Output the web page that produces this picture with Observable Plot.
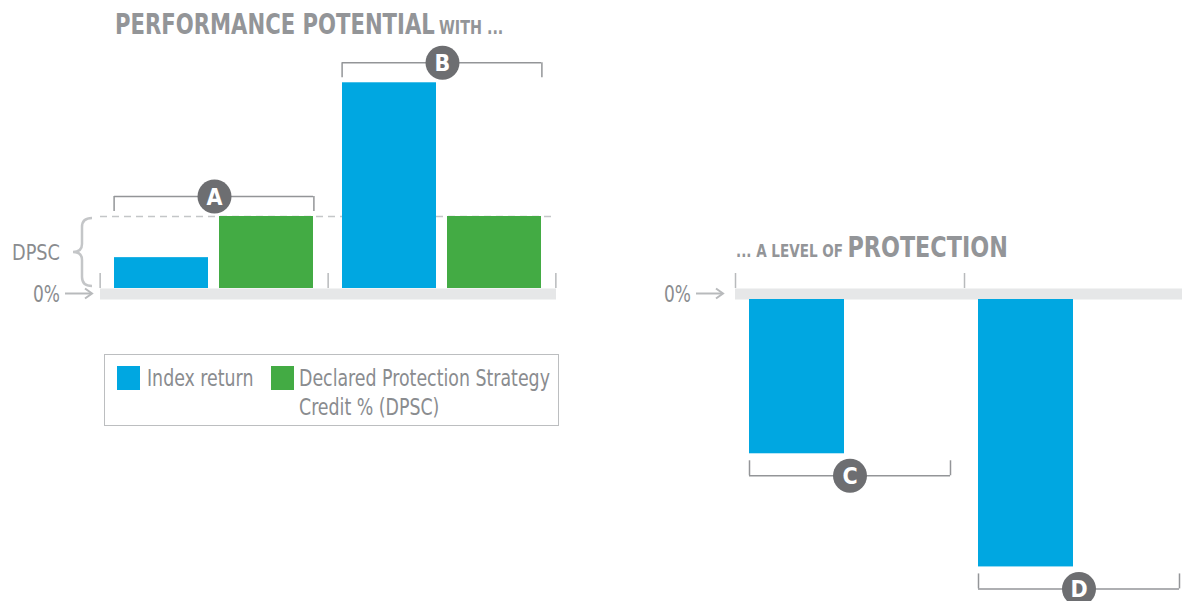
<!DOCTYPE html>
<html>
<head>
<meta charset="utf-8">
<script src="https://cdn.jsdelivr.net/npm/d3@7"></script>
<script src="https://cdn.jsdelivr.net/npm/@observablehq/plot@0.6"></script>
<style>
  html, body { margin: 0; padding: 0; background: #fff; overflow: hidden; }
  #wrap { position: relative; width: 1182px; height: 601px; overflow: hidden;
          font-family: "Liberation Sans Narrow", "DejaVu Sans Condensed", "Liberation Sans", sans-serif; }
  #wrap > svg, #wrap > div { position: absolute; }
  .title { color: #939598; font-weight: bold; white-space: nowrap; line-height: 1; transform-origin: 0 0; }
  .title .big { font-size: 28px; }
  .title .small { font-size: 17px; }
  .title .small2 { font-size: 19px; }
  #legend { left: 104px; top: 354px; width: 453px; height: 70px; border: 1.5px solid #bcbec0; color: #8a8c8f; font-size: 23px; }
  .sw { position: absolute; width: 23px; height: 24px; top: 11px; }
  .lt { position: absolute; top: 9px; line-height: 29px; white-space: nowrap; transform: scaleX(0.84); transform-origin: 0 0; }
</style>
</head>
<body>
<div id="wrap"></div>
<script>
// ---------------- data ----------------
const groups = ["A", "B", "C", "D"];
const upsideGroups = ["A", "B"];
const downsideGroups = ["C", "D"];
const series = ["Index return", "Declared Protection Strategy Credit % (DPSC)"];
const indexReturn = [3, 20, -15, -26];
const dpscCredit = [7, 7, 0, 0];
const seriesColors = ["#00a7e1", "#43ab44"];
const legendLabels = ["Index return", "Declared Protection Strategy", "Credit % (DPSC)"];
const titleUp = ["PERFORMANCE POTENTIAL", "WITH ..."];
const titleDown = ["... A LEVEL OF", "PROTECTION"];
const zeroLabel = "0%";
const dpscLabel = "DPSC";

// tidy table built from the arrays
const rows = groups.flatMap((g, i) => [
  {group: g, series: series[0], value: indexReturn[i]},
  {group: g, series: series[1], value: dpscCredit[i]}
]).filter(d => d.value !== 0);
const brackets = groups.map((g, i) => {
  const vals = [indexReturn[i], dpscCredit[i]];
  const up = upsideGroups.includes(g);
  return {group: g, up, level: up ? d3.max(vals) : d3.min(vals)};
});

// ---------------- layout constants ----------------
const yMax = 28;            // value span of the value scale
const pxSpan = 288;         // pixel span of that value span
const k = pxSpan / yMax;    // px per unit
const padIn = 0.104, padOut = 0.132;
const grey = "#939598";
const font = '"Liberation Sans Narrow", "DejaVu Sans Condensed", "Liberation Sans", sans-serif';

const wrap = d3.select("#wrap");

function panel({grp, width, height, ml, mr, yDomain, yRange, up, dashed, lastTick}) {
  const cellW = (width - ml - mr) / grp.length;
  const xb = d3.scaleBand().domain(series).range([0, cellW]).paddingInner(padIn).paddingOuter(padOut);
  const bw = xb.bandwidth();
  const bandDy = up ? 5.5 : -5.5;
  const tickDy = up ? 0 : -11;
  const bDy = up ? -20 : 22;
  const endLen = (up ? -15 : 15) / k;
  const pRows = rows.filter(d => grp.includes(d.group));
  const pBr = brackets.filter(d => grp.includes(d.group));
  const marks = [
    Plot.ruleY([0], {stroke: "#e6e7e8", strokeWidth: 11, dy: bandDy}),
    Plot.ruleX(pBr, {fx: "group", x: () => series[0], y1: () => 0, y2: () => 15 / k, dy: tickDy,
                     dx: -(bw / 2 + xb(series[0])), stroke: "#b8babc", strokeWidth: 1.5}),
  ];
  if (lastTick) marks.push(
    Plot.ruleX(pBr.slice(-1), {fx: "group", x: () => series[1], y1: () => 0, y2: () => 15 / k, dy: tickDy,
                     dx: cellW - xb(series[1]) - bw / 2, stroke: "#b8babc", strokeWidth: 1.5}));
  if (dashed) marks.push(
    Plot.ruleY([dpscCredit[0]], {stroke: "#c4c6c8", strokeWidth: 1.5, strokeDasharray: "7,5"}));
  marks.push(
    Plot.barY(pRows, {fx: "group", x: "series", y: "value", fill: "series"}),
    Plot.ruleY(pBr, {fx: "group", y: "level", x1: () => series[0], x2: () => series[1], dy: bDy, stroke: grey, strokeWidth: 1.5}),
    Plot.ruleX(pBr, {fx: "group", x: () => series[0], y1: "level", y2: d => d.level + endLen, dx: -bw / 2, dy: bDy, stroke: grey, strokeWidth: 1.5}),
    Plot.ruleX(pBr, {fx: "group", x: () => series[1], y1: "level", y2: d => d.level + endLen, dx: bw / 2, dy: bDy, stroke: grey, strokeWidth: 1.5}),
    Plot.dot(pBr, {fx: "group", y: "level", r: 17, fill: "#6d6e71", dy: bDy}),
    Plot.text(pBr, {fx: "group", y: "level", text: "group", dy: bDy + 1, fill: "white", fontSize: 23, fontWeight: "bold"})
  );
  return Plot.plot({
    width, height, marginLeft: ml, marginRight: mr, marginTop: 0, marginBottom: 0,
    style: {fontFamily: font, background: "transparent", overflow: "visible"},
    fx: {domain: grp, padding: 0, axis: null, label: null},
    x: {domain: series, paddingInner: padIn, paddingOuter: padOut, axis: null, label: null},
    y: {domain: yDomain, range: yRange, axis: null, label: null},
    color: {domain: series, range: seriesColors},
    marks
  });
}

const left = panel({grp: upsideGroups, width: 600, height: 340, ml: 99, mr: 44,
  yDomain: [0, yMax], yRange: [288, 288 - pxSpan], up: true, dashed: true, lastTick: true});
const right = panel({grp: downsideGroups, width: 600, height: 601, ml: 135, mr: 7,
  yDomain: [-yMax, 0], yRange: [299 + pxSpan, 299], up: false, dashed: false, lastTick: false});

wrap.node().appendChild(left);
d3.select(left).style("left", "0px").style("top", "0px");
wrap.node().appendChild(right);
d3.select(right).style("left", "600px").style("top", "0px");

// ---------------- titles ----------------
wrap.append("div").attr("class", "title").style("left", "115px").style("top", "11px")
  .style("transform", "scaleX(0.84)")
  .html(`<span class="big">${titleUp[0]}</span> <span class="small2">${titleUp[1]}</span>`);
wrap.append("div").attr("class", "title").style("left", "736px").style("top", "234px")
  .style("transform", "scaleX(0.885)")
  .html(`<span class="small">${titleDown[0]}</span> <span class="big">${titleDown[1]}</span>`);

// ---------------- annotations from the plot scales ----------------
const yL = left.scale("y"), yR = right.scale("y");
const ov = wrap.append("svg").attr("width", 1182).attr("height", 601).style("left", "0px").style("top", "0px")
  .style("pointer-events", "none");
const lz = yL.apply(0) + 5.5, rz = yR.apply(0) - 5.5, ld = yL.apply(dpscCredit[0]);
function zero(xEnd, yc) {
  ov.append("text").attr("x", xEnd).attr("y", yc).attr("dy", "0.36em").attr("text-anchor", "end")
    .attr("font-family", font).attr("font-size", 23).attr("fill", "#8a8c8f")
    .attr("textLength", 27).attr("lengthAdjust", "spacingAndGlyphs").text(zeroLabel);
  ov.append("line").attr("x1", xEnd + 5).attr("x2", xEnd + 31).attr("y1", yc).attr("y2", yc)
    .attr("stroke", "#b8babc").attr("stroke-width", 2);
  ov.append("path").attr("d", `M${xEnd + 25},${yc - 5} L${xEnd + 32},${yc} L${xEnd + 25},${yc + 5}`)
    .attr("fill", "none").attr("stroke", "#b8babc").attr("stroke-width", 2);
}
zero(60, lz);
zero(691, rz);
const bt = ld + 2, bb = yL.apply(0) - 2, bm = (bt + bb) / 2;
ov.append("path")
  .attr("d", `M92,${bt} Q82,${bt} 82,${bt + 9} L82,${bm - 8} Q82,${bm} 73,${bm} Q82,${bm} 82,${bm + 8} L82,${bb - 9} Q82,${bb} 92,${bb}`)
  .attr("fill", "none").attr("stroke", "#c4c6c8").attr("stroke-width", 2.5);
ov.append("text").attr("x", 60).attr("y", bm).attr("dy", "0.36em").attr("text-anchor", "end")
  .attr("font-family", font).attr("font-size", 22).attr("fill", "#8a8c8f")
  .attr("textLength", 48).attr("lengthAdjust", "spacingAndGlyphs").text(dpscLabel);

// ---------------- legend ----------------
const lg = wrap.append("div").attr("id", "legend");
lg.append("div").attr("class", "sw").style("left", "12px").style("background", seriesColors[0]);
lg.append("div").attr("class", "lt").style("left", "42px").text(legendLabels[0]);
lg.append("div").attr("class", "sw").style("left", "166px").style("background", seriesColors[1]);
lg.append("div").attr("class", "lt").style("left", "194px").html(legendLabels[1] + "<br>" + legendLabels[2]);
</script>
</body>
</html>
